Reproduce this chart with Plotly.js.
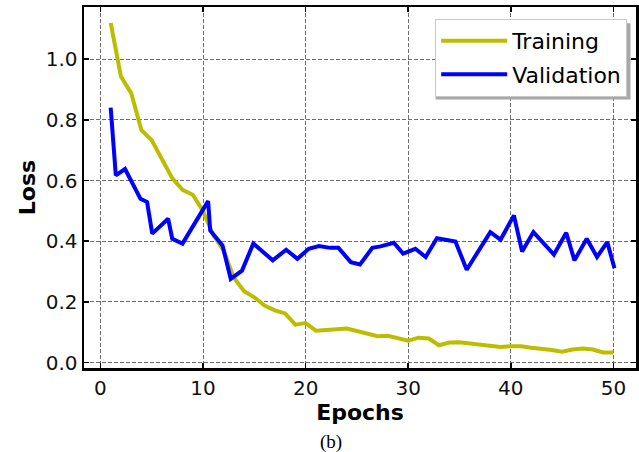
<!DOCTYPE html>
<html>
<head>
<meta charset="utf-8">
<script src="https://cdn.plot.ly/plotly-3.0.1.min.js"></script>
<style>
  html, body { margin: 0; padding: 0; background: #ffffff; }
  #chart { width: 639px; height: 452px; }
</style>
</head>
<body>
<div id="chart"></div>
<script>
// ---- Data ----
const trainEpochs = [1,2,3,4,5,6,7,8,9,10,11,12,13,14,15,16,17,18,19,20,21,22,23,24,25,26,27,28,29,30,31,32,33,34,35,36,37,38,39,40,41,42,43,44,45,46,47,48,49,50];
const trainLoss = [1.12,0.943,0.888,0.766,0.733,0.67,0.608,0.569,0.553,0.50,0.42,0.37,0.28,0.235,0.215,0.188,0.172,0.162,0.125,0.13,0.105,0.107,0.108,0.112,0.104,0.097,0.087,0.088,0.08,0.072,0.082,0.079,0.057,0.066,0.067,0.063,0.056,0.054,0.051,0.054,0.054,0.049,0.046,0.041,0.036,0.043,0.046,0.043,0.033,0.033];

const valEpochs = [1,1.5,2.4,3.9,4.55,5.05,6.6,7.0,8.0,10.5,10.7,11.9,12.7,13.8,14.9,16.8,18.1,19.2,20.3,21.3,22.4,23.2,24.4,25.3,26.5,27.3,28.6,29.5,30.7,31.7,32.8,33.9,34.6,35.7,38.0,39.0,40.3,41.1,42.2,44.2,45.4,46.2,47.4,48.4,49.4,50.1];
const valLoss = [0.84,0.617,0.638,0.54,0.529,0.425,0.474,0.408,0.392,0.532,0.435,0.386,0.276,0.303,0.392,0.337,0.372,0.342,0.375,0.384,0.378,0.378,0.331,0.323,0.378,0.383,0.395,0.359,0.375,0.348,0.41,0.405,0.399,0.306,0.43,0.405,0.485,0.366,0.43,0.356,0.428,0.337,0.408,0.348,0.397,0.311];

const xTicks = [0,10,20,30,40,50];
const yTicks = [0.0,0.2,0.4,0.6,0.8,1.0];
const yTickText = ['0.0','0.2','0.4','0.6','0.8','1.0'];

const seriesNames = ['Training','Validation'];
const xTitle = 'Epochs';
const yTitle = 'Loss';
const caption = '(b)';

// ---- Chart ----
const FONT = 'DejaVu Sans, sans-serif';

const traces = [
  { x: trainEpochs, y: trainLoss, name: seriesNames[0], type: 'scatter', mode: 'lines',
    legendgroup: 'g1', line: { color: '#bdbd00', width: 4 } },
  { x: valEpochs, y: valLoss, name: seriesNames[1], type: 'scatter', mode: 'lines',
    legendgroup: 'g2', line: { color: '#0000ff', width: 4 } }
];

const axisCommon = {
  showline: true, linecolor: '#000', linewidth: 2.5, mirror: 'ticks',
  ticks: 'inside', ticklen: 5, tickwidth: 1.5, tickcolor: '#000',
  showgrid: true, gridcolor: '#6e6e6e', gridwidth: 1, griddash: '4px,2px',
  zeroline: false,
  tickfont: { family: FONT, size: 20, color: '#111' }
};

const layout = {
  width: 639, height: 452,
  margin: { l: 84, r: 3, t: 7, b: 84 },
  paper_bgcolor: '#ffffff', plot_bgcolor: '#ffffff',
  showlegend: true,
  xaxis: Object.assign({}, axisCommon, {
    range: [-1.6, 52.2], tickvals: xTicks, ticktext: xTicks.map(String),
    title: { text: xTitle, font: { family: FONT, size: 22, weight: 'bold', color: '#000' }, standoff: 6 }
  }),
  yaxis: Object.assign({}, axisCommon, {
    range: [-0.018, 1.172], tickvals: yTicks, ticktext: yTickText,
    title: { text: yTitle, font: { family: FONT, size: 22, weight: 'bold', color: '#000' }, standoff: 4 }
  }),
  legend: {
    x: 0.984, xanchor: 'right', y: 0.967, yanchor: 'top',
    bgcolor: '#ffffff', bordercolor: '#c8c8c8', borderwidth: 1,
    font: { family: FONT, size: 22, color: '#000' },
    itemwidth: 66, tracegroupgap: 2
  },
  shapes: [
    { type: 'rect', xref: 'paper', yref: 'paper', x0: 0.637, x1: 0.990, y0: 0.744, y1: 0.955,
      line: { width: 0 }, fillcolor: '#a8a8a8', layer: 'above' }
  ],
  annotations: [
    { text: caption, xref: 'paper', yref: 'paper', x: 0.4475, y: -0.205,
      xanchor: 'center', yanchor: 'middle', showarrow: false,
      font: { family: 'Liberation Serif, Times New Roman, serif', size: 19, color: '#000' } }
  ]
};

Plotly.newPlot('chart', traces, layout, { displayModeBar: false, staticPlot: true });
</script>
</body>
</html>
